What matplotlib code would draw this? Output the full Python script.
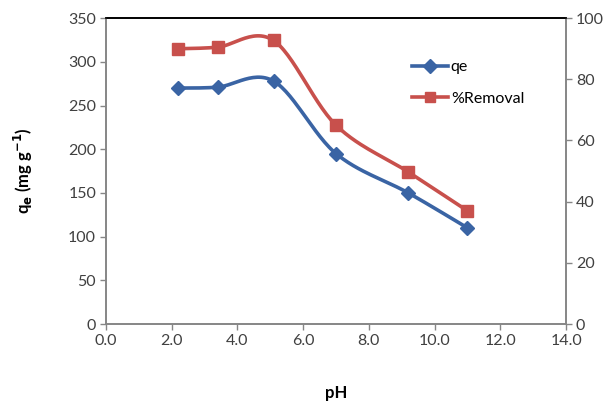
import numpy as np
import matplotlib.pyplot as plt

ph = [2.2, 3.4, 5.1, 7.0, 9.2, 11.0]
qe = [270, 271, 278, 195, 150, 110]
removal = [90.0, 90.5, 92.7, 65.0, 49.7, 37.0]

blue = '#3A64A4'
red = '#C8504C'
tick_col = '#404040'

plt.rcParams['font.family'] = ['Lato', 'DejaVu Sans']


def smooth(x, y, n=30):
    # Excel-style smoothed line: cubic bezier, control points from neighbours
    x = np.asarray(x, float)
    y = np.asarray(y, float)
    px = np.concatenate([[x[0]], x, [x[-1]]])
    py = np.concatenate([[y[0]], y, [y[-1]]])
    xs, ys = [], []
    t = np.linspace(0, 1, n)
    for i in range(1, len(px) - 2):
        p0 = np.array([px[i], py[i]])
        p3 = np.array([px[i + 1], py[i + 1]])
        p1 = p0 + (np.array([px[i + 1], py[i + 1]]) - np.array([px[i - 1], py[i - 1]])) / 6
        p2 = p3 - (np.array([px[i + 2], py[i + 2]]) - np.array([px[i], py[i]])) / 6
        b = ((1 - t) ** 3)[:, None] * p0 + (3 * (1 - t) ** 2 * t)[:, None] * p1 \
            + (3 * (1 - t) * t ** 2)[:, None] * p2 + (t ** 3)[:, None] * p3
        xs.extend(b[:, 0])
        ys.extend(b[:, 1])
    return xs, ys


fig = plt.figure(figsize=(6.12, 4.03), dpi=100)
ax = fig.add_axes([0.173, 0.196, 0.752, 0.759])
ax2 = ax.twinx()

sx, sy = smooth(ph, qe)
ax.plot(sx, sy, color=blue, lw=2.6, zorder=2)
ax.plot(ph, qe, ls='none', marker='D', ms=7.5, color=blue, zorder=3)
sx, sy = smooth(ph, removal)
ax2.plot(sx, sy, color=red, lw=2.6, zorder=2)
ax2.plot(ph, removal, ls='none', marker='s', ms=8, color=red, zorder=3)

ax.set_xlim(0, 14)
ax.set_ylim(0, 350)
ax2.set_ylim(0, 100)
ax.set_xticks(np.arange(0, 14.1, 2))
ax.set_xticklabels(['%.1f' % v for v in np.arange(0, 14.1, 2)])
ax.set_yticks(range(0, 351, 50))
ax2.set_yticks(range(0, 101, 20))

for a in (ax, ax2):
    a.tick_params(direction='out', length=4, width=1, color='#868686',
                  labelsize=11.5, labelcolor=tick_col, pad=3)
    for s in ('left', 'bottom', 'right'):
        a.spines[s].set_color('#868686')
        a.spines[s].set_linewidth(1.2)
    a.spines['top'].set_color('black')
    a.spines['top'].set_linewidth(1.2)

ax.set_xlabel('pH', fontsize=12, fontweight='bold', labelpad=27)
ax.set_ylabel('q$_\\mathbf{e}$ (mg g$^{\\mathbf{-1}}$)', fontsize=12, fontweight='bold', labelpad=24)

ax.plot([], [], color=blue, lw=2.6, marker='D', ms=7, label='qe')
ax.plot([], [], color=red, lw=2.6, marker='s', ms=7, label='%Removal')
ax.legend(loc='upper left', bbox_to_anchor=(0.635, 0.91), frameon=False, fontsize=11.5,
          handlelength=2.2, handletextpad=0.2, labelspacing=1.1)

fig.savefig('out.png', dpi=100)
